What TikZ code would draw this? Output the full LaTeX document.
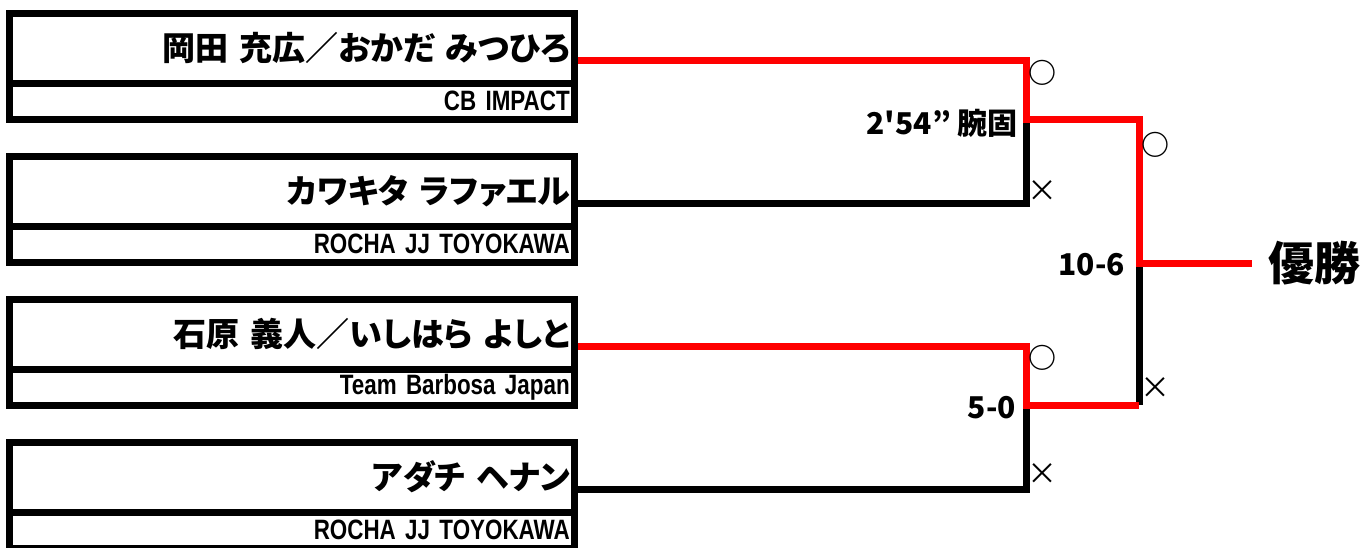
\documentclass[tikz,border=0pt]{standalone}
\usepackage{fontspec}
\usepackage{tikz}
\newfontfamily\jpfont{Noto Sans CJK JP}[RawFeature=+palt, WordSpace=2.6]
\newfontfamily\markfont{Noto Sans CJK JP}
\newfontfamily\scorefont{Noto Sans CJK JP}
\newfontfamily\teamfont{Liberation Sans}[FakeStretch=0.8]
\tikzset{
  namebox/.style={draw, line width=7pt, minimum width=564.5pt, minimum height=70pt,
    text width=556pt, inner xsep=4pt, align=right,
    font=\jpfont\bfseries\fontsize{33}{33}\selectfont},
  teambox/.style={draw, line width=7pt, minimum width=564.5pt, minimum height=36pt,
    text width=556pt, inner xsep=4pt, inner ysep=0pt, align=right,
    font=\teamfont\bfseries\fontsize{28}{28}\selectfont},
  winline/.style={red, line width=7pt},
  loseline/.style={black, line width=7pt},
  score/.style={anchor=east, inner sep=0pt, font=\scorefont\bfseries\fontsize{30}{30}\selectfont},
  okmark/.style={inner sep=0pt, font=\markfont\bfseries\fontsize{28}{28}\selectfont},
  ngmark/.style={inner sep=0pt, font=\markfont\fontsize{30}{30}\selectfont},
  champ/.style={anchor=west, inner xsep=16pt, font=\jpfont\bfseries\fontsize{46}{46}\selectfont}
}
\begin{document}
\begin{tikzpicture}[x=1pt, y=-1pt]
		\useasboundingbox (0,0) rectangle (1365,547);
		% players
		\node[namebox] (p1) at (291.75,48) {岡田 充広／おかだ みつひろ};
		\node[teambox] (t1) at (291.75,101) {CB IMPACT};
		\node[namebox] (p2) at (291.75,191) {カワキタ ラファエル};
		\node[teambox] (t2) at (291.75,244) {ROCHA JJ TOYOKAWA};
		\node[namebox] (p3) at (291.75,334) {石原 義人／いしはら よしと};
		\node[teambox] (t3) at (291.75,387) {Team Barbosa Japan};
		\node[namebox] (p4) at (291.75,477) {アダチ ヘナン};
		\node[teambox] (t4) at (291.75,530) {ROCHA JJ TOYOKAWA};
		
		\coordinate (m1) at (1026,119);
		\coordinate (m2) at (1026,405);
		\coordinate (f) at (1139,263);
		\node[champ] (win) at (1252,263) {優勝};
		
		% losers
		\draw[loseline] ([yshift=-12pt]p2.east) -| (m1);
		\draw[loseline] ([yshift=-12pt]p4.east) -| (m2);
		\draw[loseline] (f) -- (f |- m2);
		% winners
		\draw[winline] ([yshift=-12pt]p1.east) -| (m1) -| (f) -- (win.west);
		\draw[winline] ([yshift=-12pt]p3.east) -| (m2) -- (f |- m2);
		
		\node[okmark] (o1) at (1042,73) {○};  \node[ngmark] (x1) at (1042,191) {×};
		\node[okmark] (o2) at (1042,358) {○}; \node[ngmark] (x2) at (1042,474) {×};
		\node[okmark] (o3) at (1155,145) {○}; \node[ngmark] (x3) at (1155,388) {×};
		
		\node[score] (s1) at (1018,123) {2'54” 腕固};
		\node[score] (s2) at (1016,408) {5-0};
		\node[score] (s3) at (1125,265) {10-6};
		\end{tikzpicture}
\end{document}
